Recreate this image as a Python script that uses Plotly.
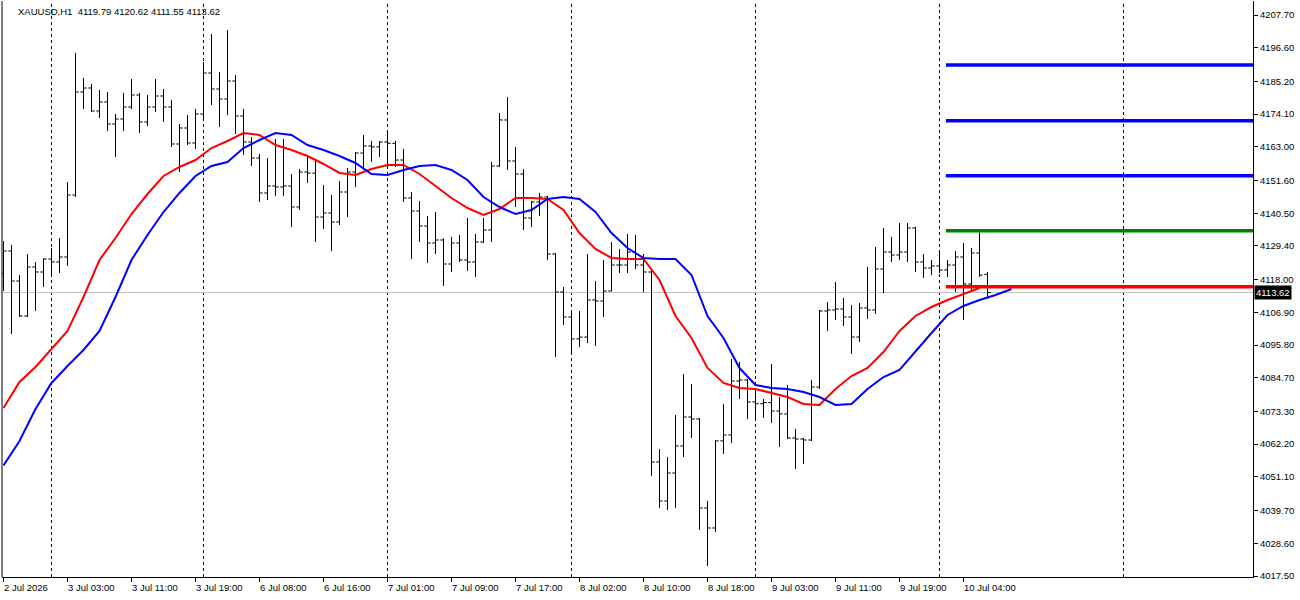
import plotly.graph_objects as go

TITLE = "XAUUSD,H1  4119.79 4120.62 4111.55 4113.62"

opens = [4120.00, 4127.69, 4117.52, 4105.65, 4122.27, 4120.57, 4124.98, 4123.96, 4125.66, 4146.68,
         4181.60, 4182.95, 4175.16, 4178.21, 4170.75, 4172.44, 4176.51, 4180.58, 4171.43, 4176.51,
         4180.24, 4176.51, 4163.97, 4169.39, 4164.31, 4174.14, 4188.04, 4182.62, 4179.22, 4185.33,
         4173.46, 4164.65, 4159.22, 4147.36, 4149.73, 4149.39, 4149.73, 4142.61, 4154.48, 4154.10,
         4139.22, 4140.57, 4137.52, 4147.69, 4154.48, 4160.92, 4163.29, 4163.00, 4164.65, 4164.20,
         4158.54, 4145.66, 4141.25, 4136.17, 4130.40, 4131.42, 4123.28, 4130.40, 4124.64, 4123.96,
         4130.74, 4134.81, 4156.51, 4172.11, 4158.21, 4153.80, 4138.88, 4144.30, 4146.00, 4126.67,
         4113.79, 4105.31, 4097.90, 4098.50, 4111.08, 4110.74, 4114.13, 4122.94, 4122.94, 4127.35,
         4122.94, 4120.57, 4056.15, 4042.93, 4052.42, 4061.58, 4071.41, 4070.73, 4040.56, 4033.78,
         4063.30, 4065.31, 4083.62, 4083.96, 4076.50, 4075.90, 4076.30, 4073.45, 4072.43, 4064.29,
         4063.95, 4063.61, 4081.58, 4107.35, 4107.69, 4108.03, 4105.31, 4098.53, 4108.37, 4107.69,
         4121.59, 4127.35, 4126.33, 4127.35, 4135.49, 4123.96, 4121.93, 4122.61, 4121.25, 4122.94,
         4125.66, 4116.50, 4127.01, 4119.79]

highs = [4131.08, 4129.72, 4119.55, 4126.67, 4123.96, 4125.20, 4128.71, 4132.10, 4151.08, 4194.82,
         4186.35, 4184.31, 4182.28, 4181.60, 4174.14, 4181.26, 4186.01, 4181.26, 4180.58, 4186.01,
         4182.62, 4178.89, 4170.75, 4173.80, 4175.84, 4191.77, 4201.26, 4188.38, 4202.62, 4187.36,
         4175.84, 4166.34, 4160.58, 4159.22, 4165.66, 4165.66, 4153.80, 4155.49, 4159.56, 4158.21,
         4150.07, 4146.68, 4151.42, 4155.83, 4161.30, 4167.02, 4164.99, 4164.99, 4168.04, 4164.99,
         4162.27, 4147.69, 4144.64, 4139.56, 4140.91, 4132.00, 4132.44, 4133.12, 4138.88, 4133.46,
         4138.88, 4157.87, 4174.48, 4179.90, 4162.95, 4155.49, 4144.64, 4147.36, 4146.40, 4127.01,
         4115.49, 4106.67, 4107.35, 4126.67, 4117.52, 4124.64, 4130.74, 4128.37, 4133.46, 4133.12,
         4126.67, 4120.91, 4060.56, 4057.85, 4072.09, 4085.99, 4082.60, 4071.07, 4042.93, 4063.61,
         4075.82, 4091.08, 4090.06, 4084.30, 4081.24, 4077.51, 4089.38, 4078.19, 4082.26, 4067.34,
         4064.29, 4083.96, 4107.69, 4110.40, 4117.18, 4111.76, 4109.38, 4110.06, 4122.27, 4129.05,
         4135.49, 4132.44, 4137.18, 4137.18, 4135.90, 4126.67, 4124.64, 4127.35, 4124.64, 4127.69,
         4130.40, 4128.71, 4134.50, 4120.62]

lows = [4114.13, 4099.55, 4105.31, 4105.31, 4107.35, 4115.49, 4119.55, 4120.23, 4122.61, 4146.00,
        4175.84, 4174.82, 4172.78, 4168.38, 4159.56, 4168.38, 4175.80, 4167.70, 4170.07, 4174.82,
        4171.43, 4162.95, 4154.48, 4163.63, 4162.27, 4172.11, 4177.19, 4169.73, 4173.80, 4167.36,
        4160.24, 4156.51, 4144.30, 4144.98, 4146.34, 4146.34, 4135.83, 4141.59, 4150.75, 4130.74,
        4135.15, 4127.69, 4136.51, 4139.22, 4149.39, 4155.15, 4157.87, 4159.56, 4155.83, 4156.17,
        4144.30, 4124.98, 4130.74, 4123.62, 4126.67, 4115.83, 4120.57, 4123.96, 4120.91, 4118.88,
        4130.40, 4130.74, 4156.20, 4155.15, 4142.61, 4134.81, 4135.83, 4139.56, 4124.64, 4091.75,
        4102.60, 4093.11, 4095.14, 4096.50, 4095.48, 4105.31, 4114.13, 4120.23, 4120.23, 4121.59,
        4113.79, 4051.41, 4040.56, 4039.88, 4040.56, 4057.85, 4064.29, 4033.10, 4020.89, 4032.42,
        4058.87, 4062.60, 4077.51, 4070.73, 4070.73, 4071.07, 4069.38, 4061.24, 4063.95, 4053.78,
        4055.48, 4063.27, 4080.90, 4100.57, 4104.30, 4102.26, 4092.77, 4096.84, 4104.63, 4106.33,
        4113.45, 4123.96, 4124.64, 4123.96, 4120.57, 4118.54, 4119.55, 4120.23, 4118.88, 4113.79,
        4104.30, 4113.79, 4118.88, 4111.55]

closes = [4127.69, 4117.52, 4105.65, 4122.27, 4120.57, 4124.98, 4123.96, 4125.66, 4146.68, 4181.60,
          4182.95, 4175.16, 4178.21, 4170.75, 4172.44, 4176.51, 4180.58, 4171.43, 4176.51, 4180.24,
          4176.51, 4163.97, 4169.39, 4164.31, 4174.14, 4188.04, 4182.62, 4179.22, 4185.33, 4173.46,
          4164.65, 4159.22, 4147.36, 4149.73, 4149.39, 4149.73, 4142.61, 4154.48, 4154.10, 4139.22,
          4140.57, 4137.52, 4147.69, 4154.48, 4160.92, 4163.29, 4163.00, 4164.65, 4164.20, 4158.54,
          4145.66, 4141.25, 4136.17, 4130.40, 4131.42, 4123.28, 4130.40, 4124.64, 4123.96, 4130.74,
          4134.81, 4156.51, 4172.11, 4158.21, 4153.80, 4138.88, 4144.30, 4146.00, 4126.67, 4113.79,
          4105.31, 4097.90, 4098.50, 4111.08, 4110.74, 4114.13, 4122.94, 4122.94, 4127.35, 4122.94,
          4120.57, 4056.15, 4042.93, 4052.42, 4061.58, 4071.41, 4070.73, 4040.56, 4033.78, 4063.30,
          4065.31, 4083.62, 4083.96, 4076.50, 4075.90, 4076.30, 4073.45, 4072.43, 4064.29, 4063.95,
          4063.61, 4081.58, 4107.35, 4107.69, 4108.03, 4105.31, 4098.53, 4108.37, 4107.69, 4121.59,
          4127.35, 4126.33, 4127.35, 4135.49, 4123.96, 4121.93, 4122.61, 4121.25, 4122.94, 4125.66,
          4116.50, 4127.01, 4119.55, 4113.62]

bar_index = list(range(len(closes)))

# moving-average lines, read every second bar
red_ma = [4074.46, 4083.27, 4088.36, 4094.46, 4100.57, 4112.09, 4124.64, 4132.10, 4140.23, 4147.01,
          4153.12, 4156.17, 4158.54, 4162.61, 4164.99, 4167.70, 4167.02, 4163.63, 4161.93, 4159.90,
          4157.19, 4154.14, 4153.46, 4155.49, 4156.85, 4156.85, 4153.80, 4149.73, 4145.66, 4142.27,
          4139.90, 4141.93, 4145.66, 4145.66, 4145.32, 4141.59, 4133.79, 4128.37, 4125.32, 4124.98,
          4124.98, 4117.86, 4105.65, 4098.19, 4088.02, 4082.94, 4081.24, 4080.90, 4079.55, 4078.19,
          4075.82, 4075.48, 4080.90, 4085.31, 4088.02, 4093.45, 4100.57, 4105.65, 4108.70, 4111.08,
          4113.11, 4115.14]
red_ma_x = list(range(0, 2 * len(red_ma), 2))

blue_ma = [4054.96, 4063.27, 4074.12, 4082.94, 4088.70, 4094.12, 4100.57, 4112.09, 4124.64, 4133.12,
           4140.91, 4147.36, 4153.12, 4156.51, 4157.87, 4162.61, 4165.32, 4167.70, 4167.02, 4163.63,
           4161.93, 4159.90, 4157.53, 4153.80, 4153.46, 4155.15, 4156.51, 4156.85, 4155.15, 4151.76,
           4146.00, 4142.61, 4140.23, 4141.59, 4145.32, 4146.00, 4145.32, 4140.91, 4133.79, 4128.71,
           4125.32, 4124.98, 4124.98, 4119.55, 4105.65, 4098.20, 4088.00, 4082.26, 4081.24, 4080.90,
           4079.89, 4078.19, 4075.48, 4075.82, 4080.90, 4084.97, 4087.35, 4093.79, 4099.89, 4105.99,
           4109.04, 4111.08, 4112.77, 4114.80]
blue_ma_x = list(range(0, 2 * len(blue_ma), 2))

level_prices = [4190.75, 4171.87, 4153.22, 4134.57, 4115.59]
level_colors = ["#0000FF", "#0000FF", "#0000FF", "#008000", "#FF0000"]
level_start = 117.8

last_price = 4113.62

x_label_bars = [0, 8, 16, 24, 32, 40, 48, 56, 64, 72, 80, 88, 96, 104, 112, 120]
x_labels = ["2 Jul 2026", "3 Jul 03:00", "3 Jul 11:00", "3 Jul 19:00", "6 Jul 08:00", "6 Jul 16:00",
            "7 Jul 01:00", "7 Jul 09:00", "7 Jul 17:00", "8 Jul 02:00", "8 Jul 10:00", "8 Jul 18:00",
            "9 Jul 03:00", "9 Jul 11:00", "9 Jul 19:00", "10 Jul 04:00"]
separator_bars = [6, 25, 48, 71, 94, 117, 140]

y_ticks = [4207.70, 4196.60, 4185.20, 4174.10, 4163.00, 4151.60, 4140.50, 4129.40, 4118.00,
           4106.90, 4095.80, 4084.70, 4073.30, 4062.20, 4051.10, 4039.70, 4028.60, 4017.50]

X_RANGE = [-0.1875, 156.1875]
Y_RANGE = [4017.16, 4212.45]
FONT = "Liberation Sans, Arial, sans-serif"
FS = 9.5

fig = go.Figure()

fig.add_trace(go.Ohlc(
    x=bar_index, open=opens, high=highs, low=lows, close=closes,
    increasing=dict(line=dict(color="black", width=1)),
    decreasing=dict(line=dict(color="black", width=1)),
    tickwidth=0.4, hoverinfo="skip", showlegend=False,
))

fig.add_trace(go.Scatter(x=red_ma_x, y=red_ma, mode="lines",
                         line=dict(color="#FF0000", width=2), hoverinfo="skip", showlegend=False))
fig.add_trace(go.Scatter(x=blue_ma_x, y=blue_ma, mode="lines",
                         line=dict(color="#0000FF", width=2), hoverinfo="skip", showlegend=False))

for p, c in zip(level_prices, level_colors):
    fig.add_trace(go.Scatter(x=[level_start, X_RANGE[1]], y=[p, p], mode="lines",
                             line=dict(color=c, width=3.5), hoverinfo="skip", showlegend=False))

shapes = []
for b in separator_bars:
    shapes.append(dict(type="line", xref="x", yref="paper", x0=b, x1=b, y0=0, y1=1,
                       line=dict(color="black", width=1, dash="3px,3px"), layer="below"))
shapes.append(dict(type="line", xref="paper", yref="y", x0=0, x1=1, y0=last_price, y1=last_price,
                   line=dict(color="#C0C0C0", width=1), layer="below"))
shapes.append(dict(type="line", xref="paper", yref="paper", x0=0, x1=0, y0=0, y1=1,
                   line=dict(color="black", width=1)))

annotations = [dict(text=TITLE, xref="paper", yref="paper", x=0, y=1, xanchor="left", yanchor="top",
                    xshift=14, yshift=-3, showarrow=False, font=dict(family=FONT, size=FS, color="black"))]
for b, t in zip(x_label_bars, x_labels):
    annotations.append(dict(text=t, xref="x", yref="paper", x=b, y=0, xanchor="left", yanchor="top",
                            xshift=-2, yshift=-3, showarrow=False,
                            font=dict(family=FONT, size=FS, color="black")))
annotations.append(dict(text="%.2f" % last_price, xref="paper", yref="y", x=1, y=last_price,
                        xanchor="left", yanchor="middle", xshift=1, showarrow=False,
                        bgcolor="black", borderpad=1, font=dict(family=FONT, size=FS, color="white")))

fig.update_layout(
    width=1300, height=600,
    margin=dict(l=2, r=47, t=1, b=23),
    paper_bgcolor="white", plot_bgcolor="white",
    showlegend=False,
    shapes=shapes, annotations=annotations,
    xaxis=dict(range=X_RANGE, showgrid=False, zeroline=False, showline=True, linecolor="black",
               linewidth=1, ticks="outside", ticklen=4, tickcolor="black",
               tickvals=x_label_bars, showticklabels=False,
               rangeslider=dict(visible=False), fixedrange=True),
    yaxis=dict(range=Y_RANGE, side="right", showgrid=False, zeroline=False, showline=True,
               linecolor="black", linewidth=1, ticks="outside", ticklen=4, tickcolor="black",
               tickvals=y_ticks, ticktext=["%.2f" % v for v in y_ticks],
               tickfont=dict(family=FONT, size=FS, color="black"), fixedrange=True),
)

fig.write_html("out.html")
